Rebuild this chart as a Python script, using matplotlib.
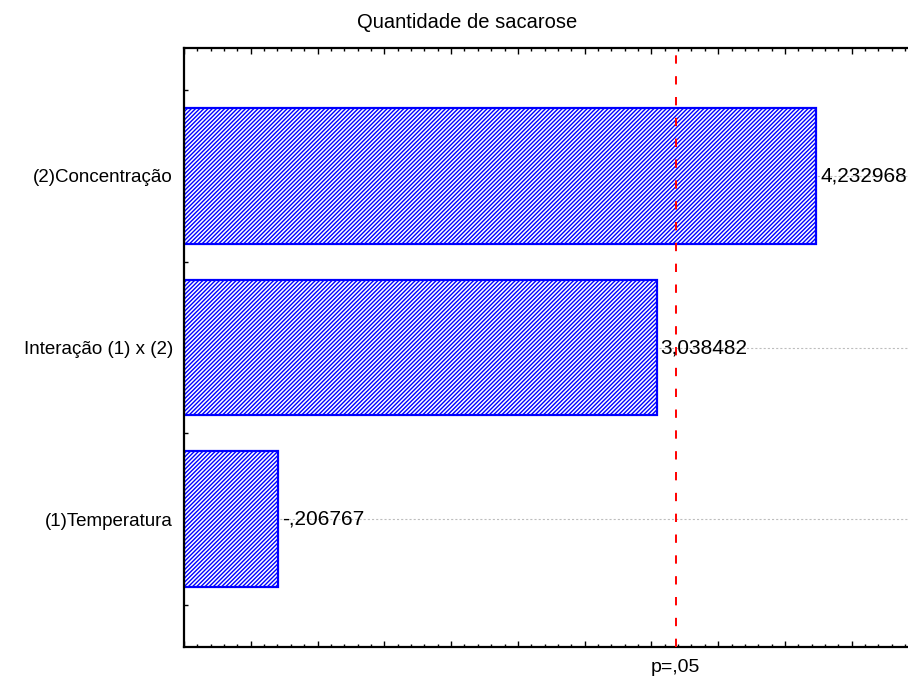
import matplotlib
matplotlib.use("Agg")
import matplotlib.pyplot as plt
from matplotlib.ticker import MultipleLocator, FixedLocator, NullFormatter
from matplotlib.transforms import blended_transform_factory

plt.rcParams['font.family'] = ['Liberation Sans', 'DejaVu Sans']
plt.rcParams['hatch.linewidth'] = 1.0
plt.rcParams['hatch.color'] = '#0000ff'
plt.rcParams['lines.scale_dashes'] = False

# Standardized effects (Pareto chart), bottom to top
factors = ["(1)Temperatura", "Interação (1) x (2)", "(2)Concentração"]
effects = [-0.206767, 3.038482, 4.232968]
effect_labels = ["-,206767", "3,038482", "4,232968"]
t_crit = 3.182446
p_label = "p=,05"
title = "Quantidade de sacarose"

xmin, xmax = -0.5, 5.0

W, H = 908, 679
fig = plt.figure(figsize=(W / 100, H / 100), dpi=100)
ax = fig.add_axes([184 / W, (H - 647) / H, (918.5 - 184) / W, (647 - 48) / H])

ypos = list(range(len(factors)))
mags = [abs(v) for v in effects]

# dotted guide lines at each factor
for y in ypos:
    ax.axhline(y, color='#bdbdbd', lw=0.8, ls=(0, (1.5, 1.5)), zorder=0)

ax.barh(ypos, [m - xmin for m in mags], left=xmin, height=0.79,
        facecolor='white', edgecolor='#0000ff', hatch='////////', linewidth=1.6, zorder=2)

for y, m, lab in zip(ypos, mags, effect_labels):
    ax.text(m + 0.03, y, lab, va='center', ha='left', fontsize=15, zorder=4)

ax.axvline(t_crit, color='#ff0000', lw=1.4, ls=(0, (6, 9)), zorder=3)
ax.text(t_crit, -21 / 599, p_label, transform=blended_transform_factory(ax.transData, ax.transAxes),
        ha='center', va='center', fontsize=14)

ax.set_xlim(xmin, xmax)
ax.set_ylim(-0.745, 2.745)

ax.xaxis.set_major_locator(MultipleLocator(0.5))
ax.xaxis.set_minor_locator(MultipleLocator(0.1))
ax.xaxis.set_major_formatter(NullFormatter())
ax.tick_params(axis='x', which='both', direction='in', top=True, bottom=True, width=1.0)
ax.tick_params(axis='x', which='major', length=4)
ax.tick_params(axis='x', which='minor', length=2)

ax.set_yticks(ypos)
ax.set_yticklabels(factors, fontsize=13.5)
ax.yaxis.set_minor_locator(FixedLocator([-0.5, 0.5, 1.5, 2.5]))
ax.tick_params(axis='y', which='both', direction='in', left=True, right=False, length=3, width=1.0, pad=8)

for side in ['left', 'bottom', 'top']:
    ax.spines[side].set_linewidth(1.6)
ax.spines['right'].set_visible(False)

fig.text(467.5 / W, 1 - 22 / H, title, ha='center', va='center', fontsize=14.5)

fig.savefig('out.png', dpi=100)
